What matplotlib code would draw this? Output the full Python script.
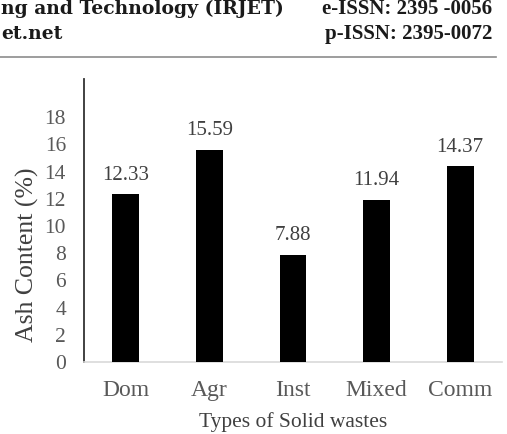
import matplotlib
matplotlib.use("Agg")
import matplotlib.pyplot as plt
from matplotlib.lines import Line2D

categories = ["Dom", "Agr", "Inst", "Mixed", "Comm"]
ash_content = [12.33, 15.59, 7.88, 11.94, 14.37]
yticks = [0, 2, 4, 6, 8, 10, 12, 14, 16, 18]

W, H = 507, 434
fig = plt.figure(figsize=(W / 100, H / 100), dpi=100)
plt.rcParams['font.family'] = ['Liberation Serif', 'DejaVu Serif']

def px(x, y):
    return x / W, 1 - y / H

# header of the page
hdr_l = dict(fontsize=13.5, fontweight='bold', color='#1a1a1a', family=['DejaVu Serif'])
hdr_r = dict(fontsize=15, fontweight='bold', color='#1a1a1a', family=['Liberation Serif'])
fig.text(*px(1, 9), "ng and Technology (IRJET)", ha='left', va='center', **hdr_l)
fig.text(*px(492, 9), "e-ISSN: 2395 -0056", ha='right', va='center', **hdr_r)
fig.text(*px(1, 34), "et.net", ha='left', va='center', **hdr_l)
fig.text(*px(492, 34), "p-ISSN: 2395-0072", ha='right', va='center', **hdr_r)
fig.add_artist(Line2D([0, 496 / W], [1 - 57 / H, 1 - 57 / H], transform=fig.transFigure,
                      color='#8c8c8c', lw=1.2))

ax = fig.add_axes([84 / W, 1 - 362 / H, (502 - 84) / W, (362 - 79) / H])
x = range(len(categories))
ax.bar(x, ash_content, width=0.32, color='black', zorder=3)
ax.set_xlim(-0.5, len(categories) - 0.5)
ax.set_ylim(0, 20.8)
ax.set_yticks(yticks)
ax.set_xticks(list(x))
ax.set_xticklabels(categories)

for s in ['top', 'right']:
    ax.spines[s].set_visible(False)
ax.spines['left'].set_color('#333333')
ax.spines['left'].set_linewidth(1.3)
ax.spines['bottom'].set_color('#d9d9d9')
ax.spines['bottom'].set_linewidth(1.2)

ax.tick_params(axis='y', length=0, labelsize=15.5, labelcolor='#595959', pad=13)
ax.tick_params(axis='x', length=0, labelsize=17, labelcolor='#595959', pad=13)

for xi, v in zip(x, ash_content):
    ax.annotate(f"{v:.2f}", (xi, v), xytext=(0, 7), textcoords='offset points',
                ha='center', va='bottom', fontsize=15, color='#404040')

fig.text(*px(293, 422), "Types of Solid wastes", ha='center', va='center',
         fontsize=15.5, color='#404040')
fig.text(*px(27, 255), "Ash Content (%)", ha='center', va='center', rotation=90,
         fontsize=18.5, color='#404040')

fig.savefig("out.png", dpi=100)
